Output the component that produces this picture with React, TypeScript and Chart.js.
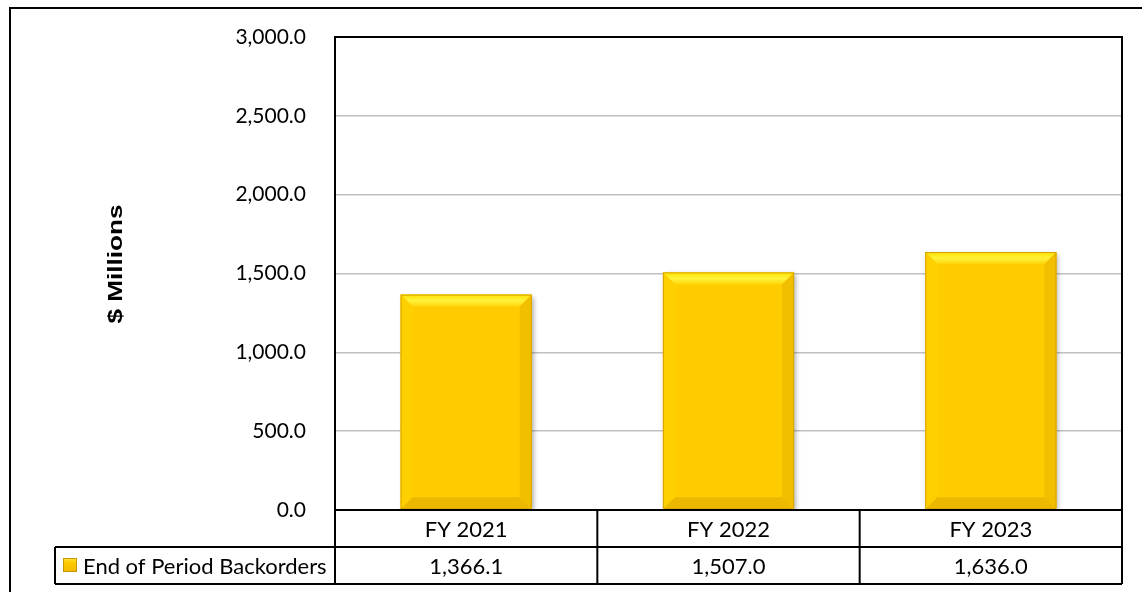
import React, { useEffect, useRef } from "react";
import { Chart, registerables } from "chart.js";

Chart.register(...registerables);

const categories = ["FY 2021", "FY 2022", "FY 2023"];
const seriesName = "End of Period Backorders";
const backorders = [1366.1, 1507.0, 1636.0];
const yMin = 0;
const yMax = 3000;
const yStep = 500;
const yTitle = "$ Millions";

const fmt = (v: number) =>
  v.toLocaleString("en-US", { minimumFractionDigits: 1, maximumFractionDigits: 1 });

const FONT = "Lato, 'Open Sans', sans-serif";
const GOLD = "#FFCC00";

function bevelRect(ctx: CanvasRenderingContext2D, l: number, t: number, r: number, b: number, bv: number) {
  // top bevel
  ctx.beginPath();
  ctx.moveTo(l, t);
  ctx.lineTo(r, t);
  ctx.lineTo(r - bv, t + bv);
  ctx.lineTo(l + bv, t + bv);
  ctx.closePath();
  const g = ctx.createLinearGradient(0, t, 0, t + bv);
  g.addColorStop(0, "#FFE000");
  g.addColorStop(0.5, "#FFF23A");
  g.addColorStop(1, "#FFD60A");
  ctx.fillStyle = g;
  ctx.fill();
  // left bevel
  ctx.beginPath();
  ctx.moveTo(l, t);
  ctx.lineTo(l + bv, t + bv);
  ctx.lineTo(l + bv, b - bv);
  ctx.lineTo(l, b);
  ctx.closePath();
  ctx.fillStyle = "#FFD000";
  ctx.fill();
  // right bevel
  ctx.beginPath();
  ctx.moveTo(r, t);
  ctx.lineTo(r - bv, t + bv);
  ctx.lineTo(r - bv, b - bv);
  ctx.lineTo(r, b);
  ctx.closePath();
  ctx.fillStyle = "#F2BF00";
  ctx.fill();
  // bottom bevel
  ctx.beginPath();
  ctx.moveTo(l, b);
  ctx.lineTo(l + bv, b - bv);
  ctx.lineTo(r - bv, b - bv);
  ctx.lineTo(r, b);
  ctx.closePath();
  ctx.fillStyle = "#EDB800";
  ctx.fill();
  // outline
  ctx.strokeStyle = "#D9A400";
  ctx.lineWidth = 1;
  ctx.strokeRect(l + 0.5, t + 0.5, r - l - 1, b - t - 1);
}

const decorPlugin = {
  id: "decor",
  beforeDatasetDraw(chart: any) {
    const ctx = chart.ctx as CanvasRenderingContext2D;
    ctx.save();
    ctx.shadowColor = "rgba(0,0,0,0.35)";
    ctx.shadowBlur = 5;
    ctx.shadowOffsetX = 2;
    ctx.shadowOffsetY = 2;
  },
  afterDatasetDraw(chart: any) {
    const ctx = chart.ctx as CanvasRenderingContext2D;
    ctx.restore();
    const meta = chart.getDatasetMeta(0);
    meta.data.forEach((bar: any) => {
      const w = bar.width;
      const l = bar.x - w / 2;
      const r = bar.x + w / 2;
      const t = Math.min(bar.y, bar.base);
      const b = Math.max(bar.y, bar.base);
      bevelRect(ctx, l, t, r, b, 12);
    });
  },
  afterDraw(chart: any) {
    const ctx = chart.ctx as CanvasRenderingContext2D;
    const area = chart.chartArea;
    const xs = chart.scales.x;
    ctx.save();
    // outer border
    ctx.strokeStyle = "#000";
    ctx.lineWidth = 2;
    ctx.beginPath();
    ctx.moveTo(10, 600);
    ctx.lineTo(10, 8);
    ctx.lineTo(1150, 8);
    ctx.stroke();
    // plot border
    ctx.strokeRect(area.left, area.top, area.right - area.left, area.bottom - area.top);

    // data table
    const row1 = area.bottom;
    const row2 = row1 + 37;
    const row3 = row2 + 37;
    const legendLeft = 55;
    const catW = (area.right - area.left) / categories.length;
    ctx.beginPath();
    ctx.moveTo(legendLeft, row2);
    ctx.lineTo(area.right, row2);
    ctx.moveTo(legendLeft, row3);
    ctx.lineTo(area.right, row3);
    ctx.moveTo(legendLeft, row2);
    ctx.lineTo(legendLeft, row3);
    ctx.stroke();
    for (let i = 0; i <= categories.length; i++) {
      const x = i < categories.length ? xs.getPixelForValue(i) - catW / 2 : xs.getPixelForValue(i - 1) + catW / 2;
      ctx.beginPath();
      ctx.moveTo(x, row1);
      ctx.lineTo(x, row3);
      ctx.stroke();
    }
    ctx.fillStyle = "#000";
    ctx.font = `22px ${FONT}`;
    ctx.textAlign = "center";
    ctx.textBaseline = "middle";
    categories.forEach((c, i) => {
      const cx = xs.getPixelForValue(i);
      ctx.fillText(c, cx, (row1 + row2) / 2 + 1);
      ctx.fillText(fmt(backorders[i]), cx, (row2 + row3) / 2 + 1);
    });
    // legend key
    const kg = ctx.createLinearGradient(0, 558, 0, 572);
    kg.addColorStop(0, "#FFE94A");
    kg.addColorStop(0.3, "#FFCC00");
    kg.addColorStop(1, "#F0B800");
    ctx.fillStyle = kg;
    ctx.fillRect(63, 558, 14, 14);
    ctx.strokeStyle = "#C89600";
    ctx.lineWidth = 1;
    ctx.strokeRect(63.5, 558.5, 13, 13);
    ctx.fillStyle = "#000";
    ctx.textAlign = "left";
    ctx.fillText(seriesName, 83, (row2 + row3) / 2 + 1);

    // y axis title
    ctx.save();
    ctx.translate(116, 264);
    ctx.rotate(-Math.PI / 2);
    ctx.font = "bold 21px 'Liberation Sans', Arial, sans-serif";
    const tw = ctx.measureText(yTitle).width;
    ctx.scale(119 / tw, 1);
    ctx.textAlign = "center";
    ctx.textBaseline = "middle";
    ctx.fillText(yTitle, 0, 0);
    ctx.restore();
    ctx.restore();
  },
};

export default function App() {
  const ref = useRef<HTMLCanvasElement>(null);
  useEffect(() => {
    if (!ref.current) return;
    const chart = new Chart(ref.current, {
      type: "bar",
      data: {
        labels: categories,
        datasets: [
          {
            label: seriesName,
            data: backorders,
            backgroundColor: GOLD,
            borderWidth: 0,
            barPercentage: 0.5,
            categoryPercentage: 1,
          },
        ],
      },
      options: {
        responsive: false,
        animation: false,
        events: [],
        layout: { padding: { top: 37, right: 20, bottom: 82, left: 0 } },
        plugins: { legend: { display: false }, tooltip: { enabled: false }, title: { display: false } },
        scales: {
          x: { display: false, offset: true, grid: { display: false } },
          y: {
            min: yMin,
            max: yMax,
            afterFit: (s: any) => {
              s.width = 335;
              s.paddingTop = 0;
              s.paddingBottom = 0;
            },
            border: { display: false },
            grid: { color: "#C0C0C0", lineWidth: 1.5, drawTicks: false },
            ticks: {
              stepSize: yStep,
              padding: 29,
              color: "#000",
              font: { family: FONT, size: 21 },
              callback: (v: any) => fmt(Number(v)),
            },
          },
        },
      },
      plugins: [decorPlugin],
    });
    return () => chart.destroy();
  }, []);
  return (
    <div style={{ position: "fixed", left: 0, top: 0, width: 1142, height: 592, background: "#fff" }}>
      <canvas ref={ref} width={1142} height={592} style={{ display: "block" }} />
    </div>
  );
}
